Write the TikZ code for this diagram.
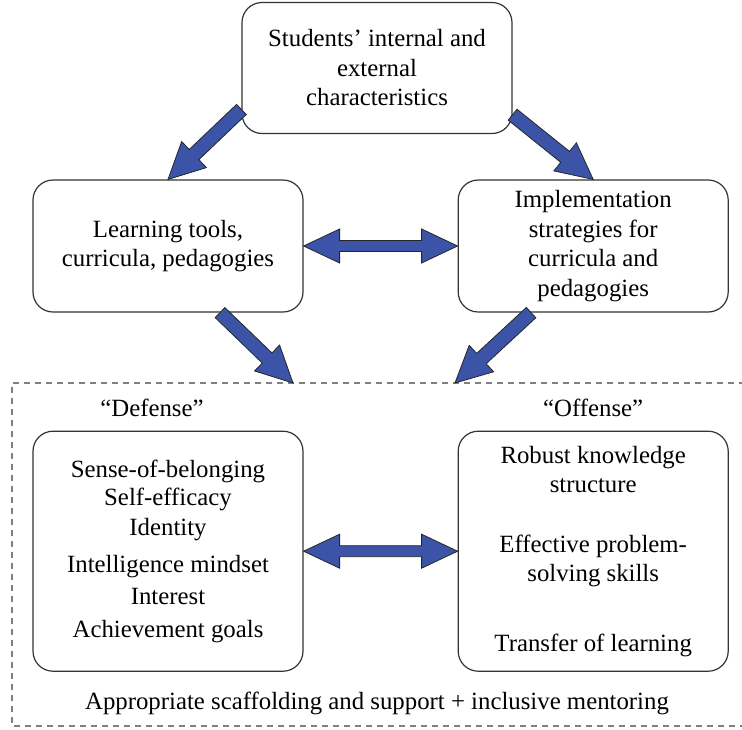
\documentclass[tikz,border=0pt]{standalone}
\usepackage{fontspec}
\setmainfont{Liberation Serif}
\usetikzlibrary{positioning,calc}
\definecolor{arrowblue}{RGB}{60,84,168}
\tikzset{
  box/.style={draw=black!80,line width=1.2pt,rounded corners=20pt,align=center,minimum width=270pt,font=\fontsize{24.8}{29.5}\selectfont},
  lbl/.style={font=\fontsize{24.8}{29.5}\selectfont},
  blockarrow/.style={fill=arrowblue,draw=black!85,line width=0.8pt,line join=miter},
  frame/.style={draw=black!50,line width=1.5pt,dash pattern=on 6pt off 5pt}
}
\newcommand{\barrow}[2]{%
  \path (#1) coordinate (ba-s) (#2) coordinate (ba-e);
  \coordinate (ba-h) at ($(ba-e)!36pt!(ba-s)$);
  \filldraw[blockarrow] ($(ba-s)!7pt!90:(ba-e)$) -- ($(ba-h)!7pt!-90:(ba-s)$) -- ($(ba-h)!18pt!-90:(ba-s)$) -- (ba-e)
    -- ($(ba-h)!18pt!90:(ba-s)$) -- ($(ba-h)!7pt!90:(ba-s)$) -- ($(ba-s)!7pt!-90:(ba-e)$) -- cycle;}
\newcommand{\dbarrow}[2]{%
  \path (#1) coordinate (ba-s) (#2) coordinate (ba-e);
  \coordinate (ba-h) at ($(ba-e)!36pt!(ba-s)$);
  \coordinate (ba-t) at ($(ba-s)!36pt!(ba-e)$);
  \filldraw[blockarrow] (ba-s) -- ($(ba-t)!17pt!90:(ba-e)$) -- ($(ba-t)!5.5pt!90:(ba-e)$) -- ($(ba-h)!5.5pt!-90:(ba-s)$) -- ($(ba-h)!17pt!-90:(ba-s)$) -- (ba-e)
    -- ($(ba-h)!17pt!90:(ba-s)$) -- ($(ba-h)!5.5pt!90:(ba-s)$) -- ($(ba-t)!5.5pt!-90:(ba-e)$) -- ($(ba-t)!17pt!-90:(ba-e)$) -- cycle;}

\begin{document}
\begin{tikzpicture}[x=1pt,y=-1pt]
  \useasboundingbox (0,0) rectangle (742,729);
  \node[box,minimum height=131pt] (stu) at (377,68) {Students’ internal and\\external\\characteristics};
  \node[box,minimum height=132pt] (tools) at (168,246) {Learning tools,\\curricula, pedagogies};
  \node[box,minimum height=132pt,right=154pt of tools] (impl) {Implementation\\strategies for\\curricula and\\pedagogies};
  \node[box,minimum height=240pt,below=118pt of tools] (def) {Sense-of-belonging\\[-1pt]Self-efficacy\\Identity\\[8pt]Intelligence mindset\\[2pt]Interest\\[4pt]Achievement goals};
  \node[box,minimum height=240pt,below=118pt of impl] (off) {Robust knowledge\\structure\\[30pt]Effective problem-\\solving skills\\[40pt]Transfer of learning};
  \node[lbl,above=10pt of def,xshift=-16pt] (deflbl) {“Defense”};
  \node[lbl,above=10pt of off] (offlbl) {“Offense”};
  \node[lbl] (scaf) at (377,703) {Appropriate scaffolding and support + inclusive mentoring};
  \draw[frame] (745,383) -- (12,383) -- (12,726) -- (745,726);
  \coordinate (inl) at (293,383);
  \coordinate (inr) at (455,383);
  \barrow{stu.197}{tools.north}
  \barrow{stu.-19}{impl.north}
  \dbarrow{tools.east}{impl.west}
  \barrow{tools.-52}{inl}
  \barrow{impl.227}{inr}
  \dbarrow{def.east}{off.west}
\end{tikzpicture}
\end{document}
